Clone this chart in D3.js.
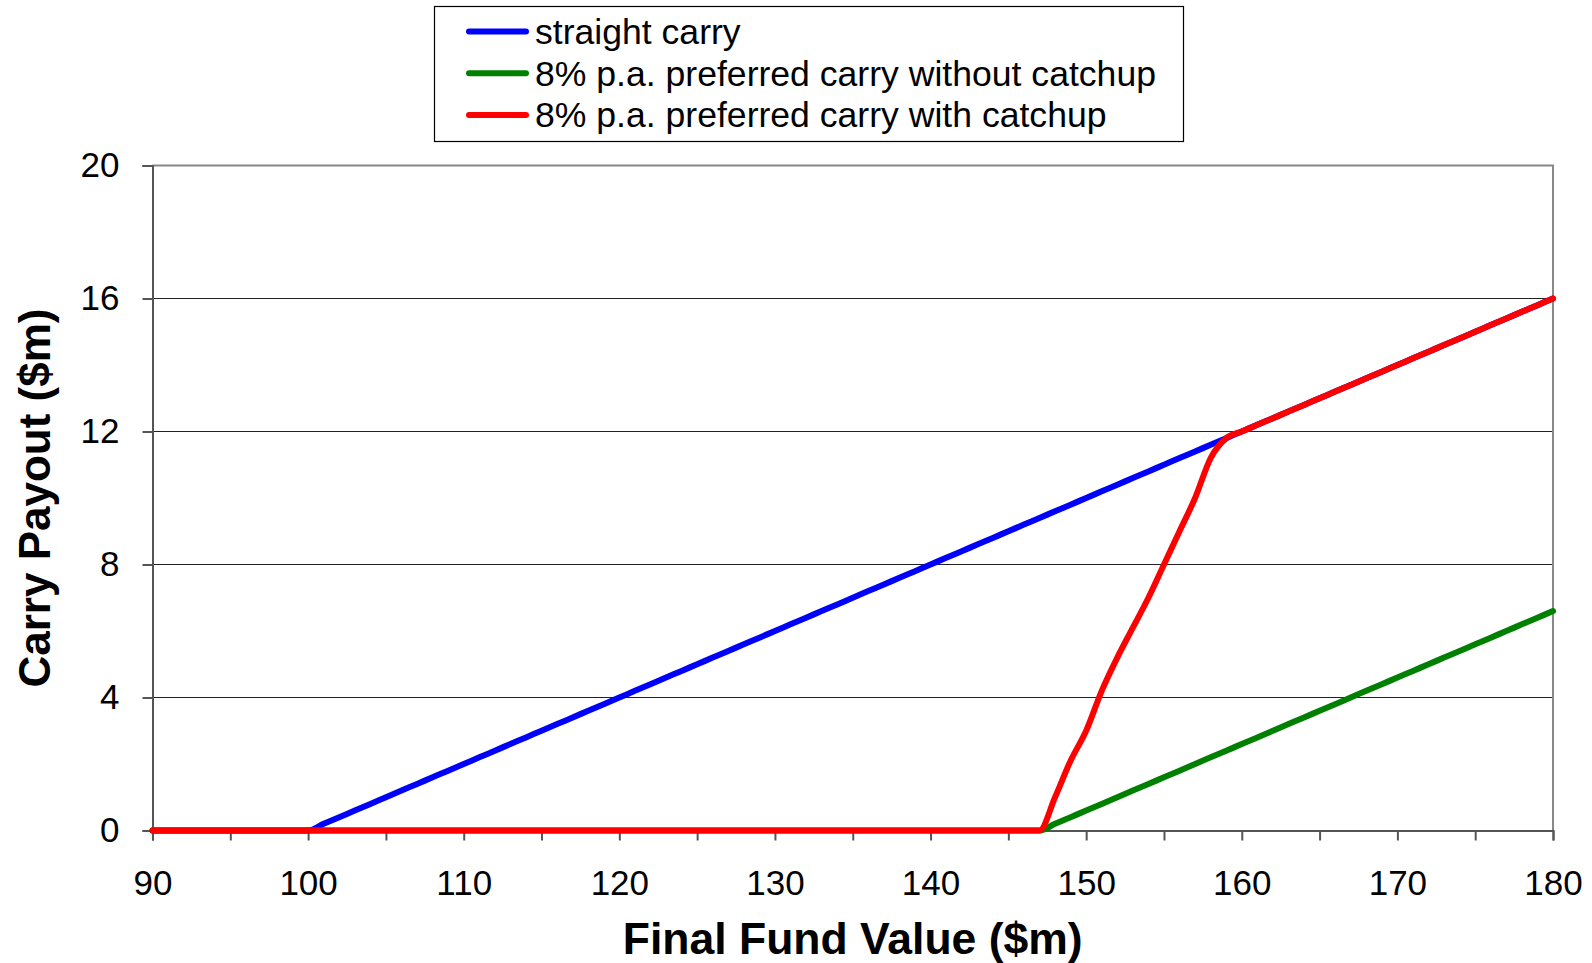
<!DOCTYPE html>
<html>
<head>
<meta charset="utf-8">
<script src="https://cdn.jsdelivr.net/npm/d3@7"></script>
<style>
  body { margin: 0; background: #fff; }
  text { font-family: "Liberation Sans", Arial, sans-serif; fill: #000; }
</style>
</head>
<body>
<div id="chart"></div>
<script>
// final fund value ($m)
const fundValue = [
  90, 91, 92, 93, 94, 95, 96, 97, 98, 99,
  100, 101, 102, 103, 104, 105, 106, 107, 108, 109,
  110, 111, 112, 113, 114, 115, 116, 117, 118, 119,
  120, 121, 122, 123, 124, 125, 126, 127, 128, 129,
  130, 131, 132, 133, 134, 135, 136, 137, 138, 139,
  140, 141, 142, 143, 144, 145, 146, 147, 148, 149,
  150, 151, 152, 153, 154, 155, 156, 157, 158, 159,
  160, 161, 162, 163, 164, 165, 166, 167, 168, 169,
  170, 171, 172, 173, 174, 175, 176, 177, 178, 179,
  180
];

// carry payout ($m)
const straightCarry = [
  0, 0, 0, 0, 0, 0, 0, 0, 0, 0,
  0, 0.2, 0.4, 0.6, 0.8, 1.0, 1.2, 1.4, 1.6, 1.8,
  2.0, 2.2, 2.4, 2.6, 2.8, 3.0, 3.2, 3.4, 3.6, 3.8,
  4.0, 4.2, 4.4, 4.6, 4.8, 5.0, 5.2, 5.4, 5.6, 5.8,
  6.0, 6.2, 6.4, 6.6, 6.8, 7.0, 7.2, 7.4, 7.6, 7.8,
  8.0, 8.2, 8.4, 8.6, 8.8, 9.0, 9.2, 9.4, 9.6, 9.8,
  10.0, 10.2, 10.4, 10.6, 10.8, 11.0, 11.2, 11.4, 11.6, 11.8,
  12.0, 12.2, 12.4, 12.6, 12.8, 13.0, 13.2, 13.4, 13.6, 13.8,
  14.0, 14.2, 14.4, 14.6, 14.8, 15.0, 15.2, 15.4, 15.6, 15.8,
  16.0
];

const prefNoCatchup = [
  0, 0, 0, 0, 0, 0, 0, 0, 0, 0,
  0, 0, 0, 0, 0, 0, 0, 0, 0, 0,
  0, 0, 0, 0, 0, 0, 0, 0, 0, 0,
  0, 0, 0, 0, 0, 0, 0, 0, 0, 0,
  0, 0, 0, 0, 0, 0, 0, 0, 0, 0,
  0, 0, 0, 0, 0, 0, 0, 0, 0.2, 0.4,
  0.6, 0.8, 1.0, 1.2, 1.4, 1.6, 1.8, 2.0, 2.2, 2.4,
  2.6, 2.8, 3.0, 3.2, 3.4, 3.6, 3.8, 4.0, 4.2, 4.4,
  4.6, 4.8, 5.0, 5.2, 5.4, 5.6, 5.8, 6.0, 6.2, 6.4,
  6.6
];

const prefCatchup = [
  0, 0, 0, 0, 0, 0, 0, 0, 0, 0,
  0, 0, 0, 0, 0, 0, 0, 0, 0, 0,
  0, 0, 0, 0, 0, 0, 0, 0, 0, 0,
  0, 0, 0, 0, 0, 0, 0, 0, 0, 0,
  0, 0, 0, 0, 0, 0, 0, 0, 0, 0,
  0, 0, 0, 0, 0, 0, 0, 0, 1.0, 2.1,
  3.0, 4.2, 5.2, 6.1, 7.0, 8.0, 9.0, 10.0, 11.2, 11.8,
  12.0, 12.2, 12.4, 12.6, 12.8, 13.0, 13.2, 13.4, 13.6, 13.8,
  14.0, 14.2, 14.4, 14.6, 14.8, 15.0, 15.2, 15.4, 15.6, 15.8,
  16.0
];

const seriesNames = [
  "straight carry",
  "8% p.a. preferred carry without catchup",
  "8% p.a. preferred carry with catchup"
];
const seriesColors = ["#0000ff", "#008000", "#ff0000"];
const seriesValues = [straightCarry, prefNoCatchup, prefCatchup];

const xTicks = [90, 95, 100, 105, 110, 115, 120, 125, 130, 135, 140, 145, 150, 155, 160, 165, 170, 175, 180];
const yTicks = [0, 4, 8, 12, 16, 20];

// set the dimensions and margins of the graph
const W = 1592, H = 963;
const margin = { top: 165.5, right: 39, bottom: 132.5, left: 152.5 },
    width = W - margin.left - margin.right,
    height = H - margin.top - margin.bottom;

const svg = d3.select("#chart")
    .append("svg")
    .attr("width", W)
    .attr("height", H);

const g = svg.append("g")
    .attr("transform", `translate(${margin.left},${margin.top})`);

const x = d3.scaleLinear().domain([90, 180]).range([0, width]);
const y = d3.scaleLinear().domain([0, 20]).range([height, 0]);

// gridlines
g.selectAll(".grid")
    .data(yTicks.filter(d => d > 0 && d < 20))
    .join("line")
    .attr("x1", 0).attr("x2", width)
    .attr("y1", d => y(d)).attr("y2", d => y(d))
    .attr("stroke", "#222")
    .attr("stroke-width", 1.2);

// frame top and right
g.append("path")
    .attr("d", `M0,${y(20)}H${width}V${height}`)
    .attr("fill", "none")
    .attr("stroke", "#888")
    .attr("stroke-width", 2);

// X axis
const xAxis = g.append("g")
    .attr("transform", `translate(0,${height})`)
    .call(d3.axisBottom(x)
        .tickValues(xTicks)
        .tickSize(10)
        .tickPadding(30)
        .tickFormat(d => d % 10 === 0 ? d : ""));
xAxis.selectAll("text").style("font-size", "35px");

// Y axis
const yAxis = g.append("g")
    .call(d3.axisLeft(y)
        .tickValues(yTicks)
        .tickSize(10)
        .tickPadding(23));
yAxis.selectAll("text").style("font-size", "35px");

[xAxis, yAxis].forEach(a => {
    a.select(".domain").attr("stroke", "#555").attr("stroke-width", 2);
    a.selectAll(".tick line").attr("stroke", "#555").attr("stroke-width", 2);
});

// lines
const line = d3.line()
    .x((d, i) => x(fundValue[i]))
    .y(d => y(d))
    .curve(d3.curveMonotoneX);

g.selectAll(".series")
    .data(seriesValues)
    .join("path")
    .attr("d", d => line(d))
    .attr("fill", "none")
    .attr("stroke", (d, i) => seriesColors[i])
    .attr("stroke-width", 6)
    .attr("stroke-linejoin", "round")
    .attr("stroke-linecap", "round");

// axis titles
svg.append("text")
    .attr("x", margin.left + width / 2)
    .attr("y", 954)
    .attr("text-anchor", "middle")
    .style("font-size", "44.5px")
    .style("font-weight", "bold")
    .text("Final Fund Value ($m)");

svg.append("text")
    .attr("transform", `translate(50,${margin.top + height / 2}) rotate(-90)`)
    .attr("text-anchor", "middle")
    .style("font-size", "44px")
    .style("font-weight", "bold")
    .text("Carry Payout ($m)");

// legend
const legend = svg.append("g");
legend.append("rect")
    .attr("x", 434.5).attr("y", 6.5)
    .attr("width", 749).attr("height", 135)
    .attr("fill", "#fff")
    .attr("stroke", "#000")
    .attr("stroke-width", 1.2);

const rows = legend.selectAll(".row")
    .data(seriesNames)
    .join("g")
    .attr("transform", (d, i) => `translate(469,${31.5 + i * 41.7})`);

rows.append("line")
    .attr("x1", 0).attr("x2", 57)
    .attr("stroke", (d, i) => seriesColors[i])
    .attr("stroke-width", 6)
    .attr("stroke-linecap", "round");

rows.append("text")
    .attr("x", 66)
    .attr("dy", "0.35em")
    .style("font-size", "35.6px")
    .text(d => d);
</script>
</body>
</html>
